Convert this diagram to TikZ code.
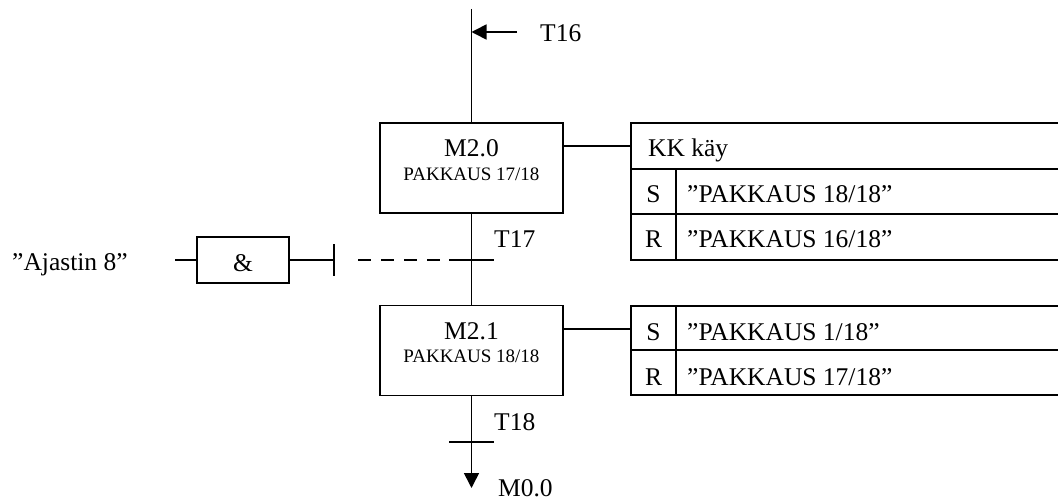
\documentclass[tikz,border=0pt]{standalone}
\usepackage{fontspec}
\setmainfont{Liberation Serif}
\usetikzlibrary{arrows.meta}
\tikzset{
  ln/.style={line width=1.6pt},
  stepbox/.style={draw, line width=1.6pt, minimum width=183pt, minimum height=90pt, inner sep=0pt},
  andbox/.style={draw, line width=1.6pt, minimum width=92pt, minimum height=46pt, inner sep=0pt},
  big/.style={font=\fontsize{25.5}{28}\selectfont, inner sep=0pt},
  small/.style={font=\fontsize{19}{21}\selectfont, inner sep=0pt},
  tip/.style={-{Triangle[length=15pt,width=15pt]}}
}
\begin{document}
\begin{tikzpicture}[x=1pt,y=-1pt]
\clip (0,0) rectangle (1058,500);
\fill[white] (0,0) rectangle (1058,500);

% step boxes
\node[stepbox] (m20) at (471.5,168) {};
\node[stepbox] (m21) at (471.5,350.5) {};
\node[big, anchor=base] (m20t) at (471.5,157) {M2.0};
\node[small, anchor=base] (m20s) at (471.5,180) {PAKKAUS 17/18};
\node[big, anchor=base] (m21t) at (471.5,339) {M2.1};
\node[small, anchor=base] (m21s) at (471.5,362) {PAKKAUS 18/18};

% main line
\coordinate (top) at (471.5,9);
\draw[ln] (top) -- (m20.north);
\draw[ln] (m20.south) -- (m21.north);
\coordinate (bot) at (471.5,488);
\draw[ln, tip] (m21.south) -- (bot);

% T16 arrow
\coordinate (t16a) at (517,32);
\coordinate (t16b) at (471.5,32);
\draw[ln, tip] (t16a) -- (t16b);
\node[big, anchor=base west] (t16) at (540,42) {T16};

% T17 transition
\coordinate (t17l) at (449,260);
\coordinate (t17r) at (494,260);
\draw[ln] (t17l) -- (t17r);
\node[big, anchor=base west] (t17) at (494,247) {T17};

% T18 transition
\coordinate (t18l) at (449,442);
\coordinate (t18r) at (494,442);
\draw[ln] (t18l) -- (t18r);
\node[big, anchor=base west] (t18) at (494,430) {T18};
\node[big, anchor=base west] (m00) at (498,496.5) {M0.0};

% AND condition
\node[big, anchor=base west] (ajastin) at (12,270) {”Ajastin 8”};
\node[andbox] (and) at (243,260) {};
\node[big, anchor=base] (andt) at (243,271) {\&};
\coordinate (ain) at (175,260);
\coordinate (tick) at (334,260);
\coordinate (ticku) at (334,244);
\coordinate (tickd) at (334,276);
\coordinate (dash0) at (358,260);
\draw[ln] (ain) -- (and.west);
\draw[ln] (and.east) -- (tick);
\draw[ln] (ticku) -- (tickd);
\draw[ln, dash pattern=on 13pt off 10pt] (dash0) -- (t17l);

% action table 1
\coordinate (a1tl) at (631,123);
\coordinate (a1br) at (1075,260);
\draw[ln] (a1tl) rectangle (a1br);
\draw[ln] (631,169) -- (1075,169);
\draw[ln] (631,214) -- (1075,214);
\draw[ln] (676,169) -- (676,260);
\coordinate (a1in) at (631,146);
\draw[ln] (m20.east |- a1in) -- (a1in);
\node[big, anchor=base west] (kk) at (648,157) {KK käy};
\node[big, anchor=base] (s1) at (653.5,202) {S};
\node[big, anchor=base west] (s1t) at (687,202) {”PAKKAUS 18/18”};
\node[big, anchor=base] (r1) at (653.5,247) {R};
\node[big, anchor=base west] (r1t) at (687,247) {”PAKKAUS 16/18”};

% action table 2
\coordinate (a2tl) at (631,306);
\coordinate (a2br) at (1075,395);
\draw[ln] (a2tl) rectangle (a2br);
\draw[ln] (631,350) -- (1075,350);
\draw[ln] (676,306) -- (676,395);
\coordinate (a2in) at (631,329);
\draw[ln] (m21.east |- a2in) -- (a2in);
\node[big, anchor=base] (s2) at (653.5,340) {S};
\node[big, anchor=base west] (s2t) at (687,340) {”PAKKAUS 1/18”};
\node[big, anchor=base] (r2) at (653.5,385) {R};
\node[big, anchor=base west] (r2t) at (687,385) {”PAKKAUS 17/18”};
\end{tikzpicture}
\end{document}
